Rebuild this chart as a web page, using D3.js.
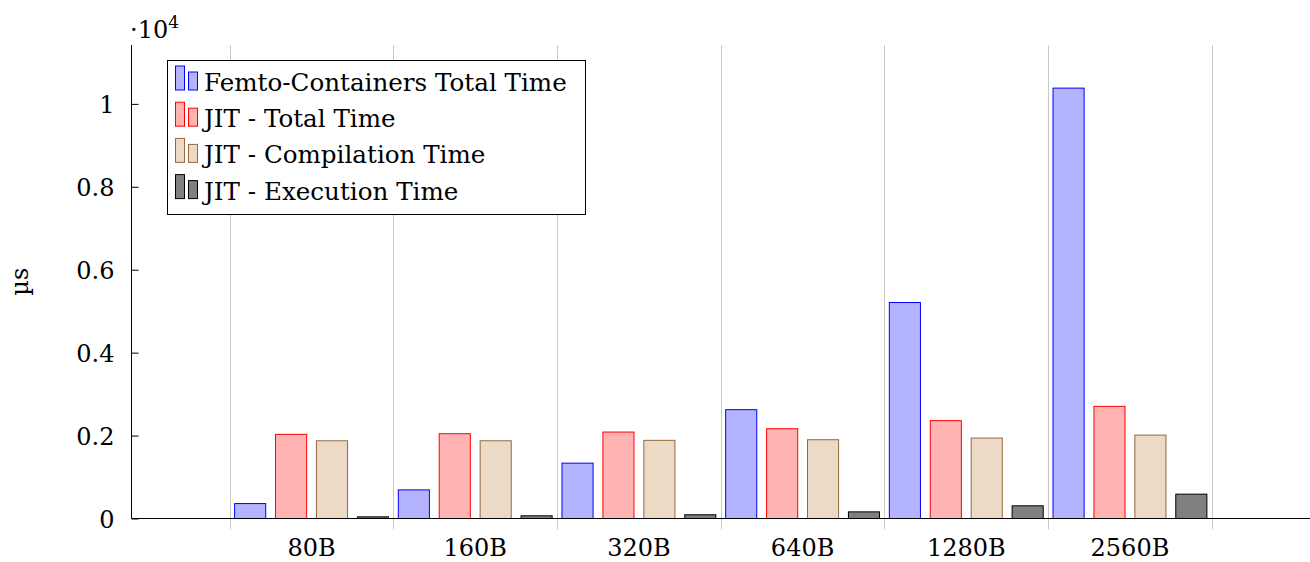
<!DOCTYPE html>
<html>
<head>
<meta charset="utf-8">
<script src="https://cdn.jsdelivr.net/npm/d3@7"></script>
<style>
  body { margin: 0; background: #fff; }
  svg text { font-family: "DejaVu Serif", "Liberation Serif", serif; fill: #000; }
</style>
</head>
<body>
<div id="chart"></div>
<script>
// values in microseconds (axis is x10^4)
var categories = ["80B", "160B", "320B", "640B", "1280B", "2560B"];
var femtoTotal = [360, 690, 1335, 2625, 5210, 10380];
var jitTotal = [2030, 2045, 2085, 2165, 2360, 2705];
var jitCompile = [1875, 1875, 1885, 1900, 1940, 2012];
var jitExec = [40, 65, 90, 160, 306, 587];
var yTicks = [0, 2000, 4000, 6000, 8000, 10000];
var seriesNames = ["Femto-Containers Total Time", "JIT - Total Time", "JIT - Compilation Time", "JIT - Execution Time"];

var series = [
    { name: seriesNames[0], values: femtoTotal, fill: "rgb(179,179,255)", stroke: "rgb(0,0,255)" },
    { name: seriesNames[1], values: jitTotal, fill: "rgb(255,179,179)", stroke: "rgb(255,0,0)" },
    { name: seriesNames[2], values: jitCompile, fill: "rgb(236,217,198)", stroke: "rgb(150,105,65)" },
    { name: seriesNames[3], values: jitExec, fill: "rgb(128,128,128)", stroke: "rgb(0,0,0)" }
];

function drawChart() {
    var width = 1310;
    var height = 562;
    var left = 131.5, right = 1310, top = 45, bottom = 518.5;
    var fontSize = 24;

    var svg = d3.select("#chart")
        .append("svg")
        .attr("width", width)
        .attr("height", height);

    var xScale = d3.scaleLinear().domain([-1.1, categories.length + 0.1]).range([left, right]);
    var yScale = d3.scaleLinear().domain([0, 11420]).range([bottom, top]);

    // vertical grid at the interval boundaries
    var bounds = d3.range(categories.length + 1).map(function(i) { return i - 0.5; });
    svg.append("g").selectAll("line")
        .data(bounds)
        .enter().append("line")
        .attr("x1", function(d) { return Math.round(xScale(d)) + 0.5; })
        .attr("x2", function(d) { return Math.round(xScale(d)) + 0.5; })
        .attr("y1", top)
        .attr("y2", bottom + 11)
        .attr("stroke", "#c8c8c8")
        .attr("stroke-width", 1);

    // bars
    var offsets = [-0.375, -0.125, 0.125, 0.375];
    var barW = xScale(0.19) - xScale(0);
    series.forEach(function(s, si) {
        svg.append("g").selectAll("rect")
            .data(s.values)
            .enter().append("rect")
            .attr("x", function(d, i) { return xScale(i + offsets[si]) - barW / 2; })
            .attr("y", function(d) { return yScale(d); })
            .attr("width", barW)
            .attr("height", function(d) { return yScale(0) - yScale(d); })
            .attr("fill", s.fill)
            .attr("stroke", s.stroke)
            .attr("stroke-width", 1);
    });

    // y axis
    var yAxis = d3.axisLeft(yScale)
        .tickValues(yTicks)
        .tickSize(-7)
        .tickPadding(17)
        .tickFormat(function(d) { return d / 10000; });
    var gy = svg.append("g")
        .attr("transform", "translate(" + left + ",0)")
        .call(yAxis);
    gy.select(".domain").remove();
    gy.selectAll(".tick line").attr("stroke", "#000");
    gy.selectAll(".tick text")
        .attr("font-family", null)
        .attr("font-size", fontSize)
        .attr("dy", "0.36em");

    svg.append("line")
        .attr("x1", left).attr("x2", left)
        .attr("y1", top).attr("y2", bottom)
        .attr("stroke", "#000").attr("stroke-width", 1);
    svg.append("line")
        .attr("x1", left).attr("x2", right)
        .attr("y1", bottom).attr("y2", bottom)
        .attr("stroke", "#000").attr("stroke-width", 1);

    // x labels centred in each interval
    svg.append("g").selectAll("text")
        .data(categories)
        .enter().append("text")
        .attr("x", function(d, i) { return xScale(i); })
        .attr("y", 556)
        .attr("text-anchor", "middle")
        .attr("font-size", fontSize)
        .text(function(d) { return d; });

    // scale note
    var note = svg.append("text")
        .attr("x", 130)
        .attr("y", 38)
        .attr("font-size", fontSize);
    note.append("tspan").text("\u00b710");
    note.append("tspan").attr("font-size", 17).attr("dy", -10).text("4");

    // y label
    svg.append("text")
        .attr("transform", "translate(28," + ((top + bottom) / 2) + ") rotate(-90)")
        .attr("text-anchor", "middle")
        .attr("font-size", fontSize)
        .text("\u00b5s");

    // legend
    var lg = svg.append("g");
    lg.append("rect")
        .attr("x", 167.5).attr("y", 60.5)
        .attr("width", 418).attr("height", 154)
        .attr("fill", "#fff")
        .attr("stroke", "#000")
        .attr("stroke-width", 1);
    series.forEach(function(s, i) {
        var base = 91 + i * 36.2;
        lg.append("rect")
            .attr("x", 175.5).attr("y", base - 25)
            .attr("width", 9).attr("height", 24)
            .attr("fill", s.fill).attr("stroke", s.stroke);
        lg.append("rect")
            .attr("x", 188.5).attr("y", base - 19)
            .attr("width", 9).attr("height", 18)
            .attr("fill", s.fill).attr("stroke", s.stroke);
        lg.append("text")
            .attr("x", 204)
            .attr("y", base)
            .attr("font-size", 24.6)
            .text(s.name);
    });
}

drawChart();
</script>
</body>
</html>
